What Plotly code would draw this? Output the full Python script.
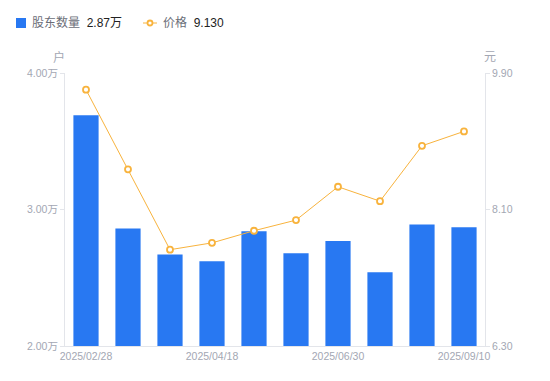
import plotly.graph_objects as go

dates = ["2025/02/28", "2025/03/10", "2025/03/31", "2025/04/18", "2025/04/30",
         "2025/05/20", "2025/06/30", "2025/07/31", "2025/08/20", "2025/09/10"]
holders = [3.69, 2.86, 2.67, 2.62, 2.84, 2.68, 2.77, 2.54, 2.89, 2.87]  # 万户
price = [9.68, 8.63, 7.57, 7.66, 7.82, 7.96, 8.40, 8.21, 8.94, 9.13]
left_ticks = [2.0, 3.0, 4.0]
left_labels = ["2.00万", "3.00万", "4.00万"]
right_ticks = [6.3, 8.1, 9.9]
right_labels = ["6.30", "8.10", "9.90"]
x_labels_idx = [0, 3, 6, 9]

FONT = "'Liberation Sans', 'Noto Sans CJK SC', sans-serif"
GREY = "#A3A7B3"
AXIS = "#E3E5EA"
BLUE = "#2878F2"
ORANGE = "#F8B33D"

W, H = 550, 381
ML, MR, MT, MB = 65, 65, 73, 35
PW, PH = W - ML - MR, H - MT - MB


def px(x):
    return (x - ML) / PW


def py(y):
    return (H - MB - y) / PH


fig = go.Figure()
fig.add_trace(go.Bar(
    x=dates, y=holders, yaxis="y",
    marker=dict(color=BLUE, line=dict(width=0)),
    name="股东数量",
))
fig.add_trace(go.Scatter(
    x=dates, y=price, yaxis="y2", mode="lines+markers",
    line=dict(color=ORANGE, width=1),
    marker=dict(symbol="circle", size=6, color="white", line=dict(color=ORANGE, width=1.8)),
    name="价格",
))

shapes = [
    dict(type="rect", xref="paper", yref="paper", x0=px(16), x1=px(26), y0=py(28), y1=py(18),
         fillcolor=BLUE, line=dict(width=0), layer="above"),
    dict(type="line", xref="paper", yref="paper", x0=px(143), x1=px(157), y0=py(23), y1=py(23),
         line=dict(color=ORANGE, width=1), layer="above"),
    dict(type="circle", xref="paper", yref="paper", x0=px(147.5), x1=px(152.5), y0=py(25.5), y1=py(20.5),
         fillcolor="white", line=dict(color=ORANGE, width=1.8), layer="above"),
]

annotations = [
    dict(text='<span style="color:#6B6E78">股东数量</span>  <span style="color:#222">2.87万</span>',
         xref="paper", yref="paper", x=px(30), y=py(23), xanchor="left", yanchor="middle",
         showarrow=False, font=dict(size=12)),
    dict(text='<span style="color:#6B6E78">价格</span>  <span style="color:#222">9.130</span>',
         xref="paper", yref="paper", x=px(161), y=py(23), xanchor="left", yanchor="middle",
         showarrow=False, font=dict(size=12)),
    dict(text="户", xref="paper", yref="paper", x=px(59), y=py(57), xanchor="center", yanchor="middle",
         showarrow=False, font=dict(size=12, color=GREY)),
    dict(text="元", xref="paper", yref="paper", x=px(490), y=py(57), xanchor="center", yanchor="middle",
         showarrow=False, font=dict(size=12, color=GREY)),
]

fig.update_layout(
    width=W, height=H,
    margin=dict(l=ML, r=MR, t=MT, b=MB, autoexpand=False),
    paper_bgcolor="white", plot_bgcolor="white",
    font=dict(family=FONT, size=11, color=GREY),
    bargap=0.4,
    showlegend=False,
    xaxis=dict(
        type="category", range=[-0.5, len(dates) - 0.5], showgrid=False, showline=True,
        linecolor=AXIS, linewidth=1,
        tickmode="array", tickvals=[dates[i] for i in x_labels_idx],
        ticktext=[dates[i] for i in x_labels_idx], ticks="", tickfont=dict(size=10.5, color=GREY),
        zeroline=False, automargin=False,
    ),
    yaxis=dict(
        range=[2.0, 4.0], showgrid=False, showline=True, linecolor=AXIS, linewidth=1,
        tickmode="array", tickvals=left_ticks, ticktext=left_labels,
        ticks="outside", ticklen=4, tickcolor=AXIS, tickfont=dict(size=10.5, color=GREY),
        zeroline=False, automargin=False,
    ),
    yaxis2=dict(
        range=[6.3, 9.9], overlaying="y", side="right", showgrid=False, showline=True,
        linecolor=AXIS, linewidth=1, tickmode="array", tickvals=right_ticks, ticktext=right_labels,
        ticks="outside", ticklen=4, tickcolor=AXIS, tickfont=dict(size=10.5, color=GREY),
        zeroline=False, automargin=False,
    ),
    shapes=shapes,
    annotations=annotations,
)

fig.write_html("out.html", config={"displayModeBar": False},
               post_script="document.body.style.margin='0';")
